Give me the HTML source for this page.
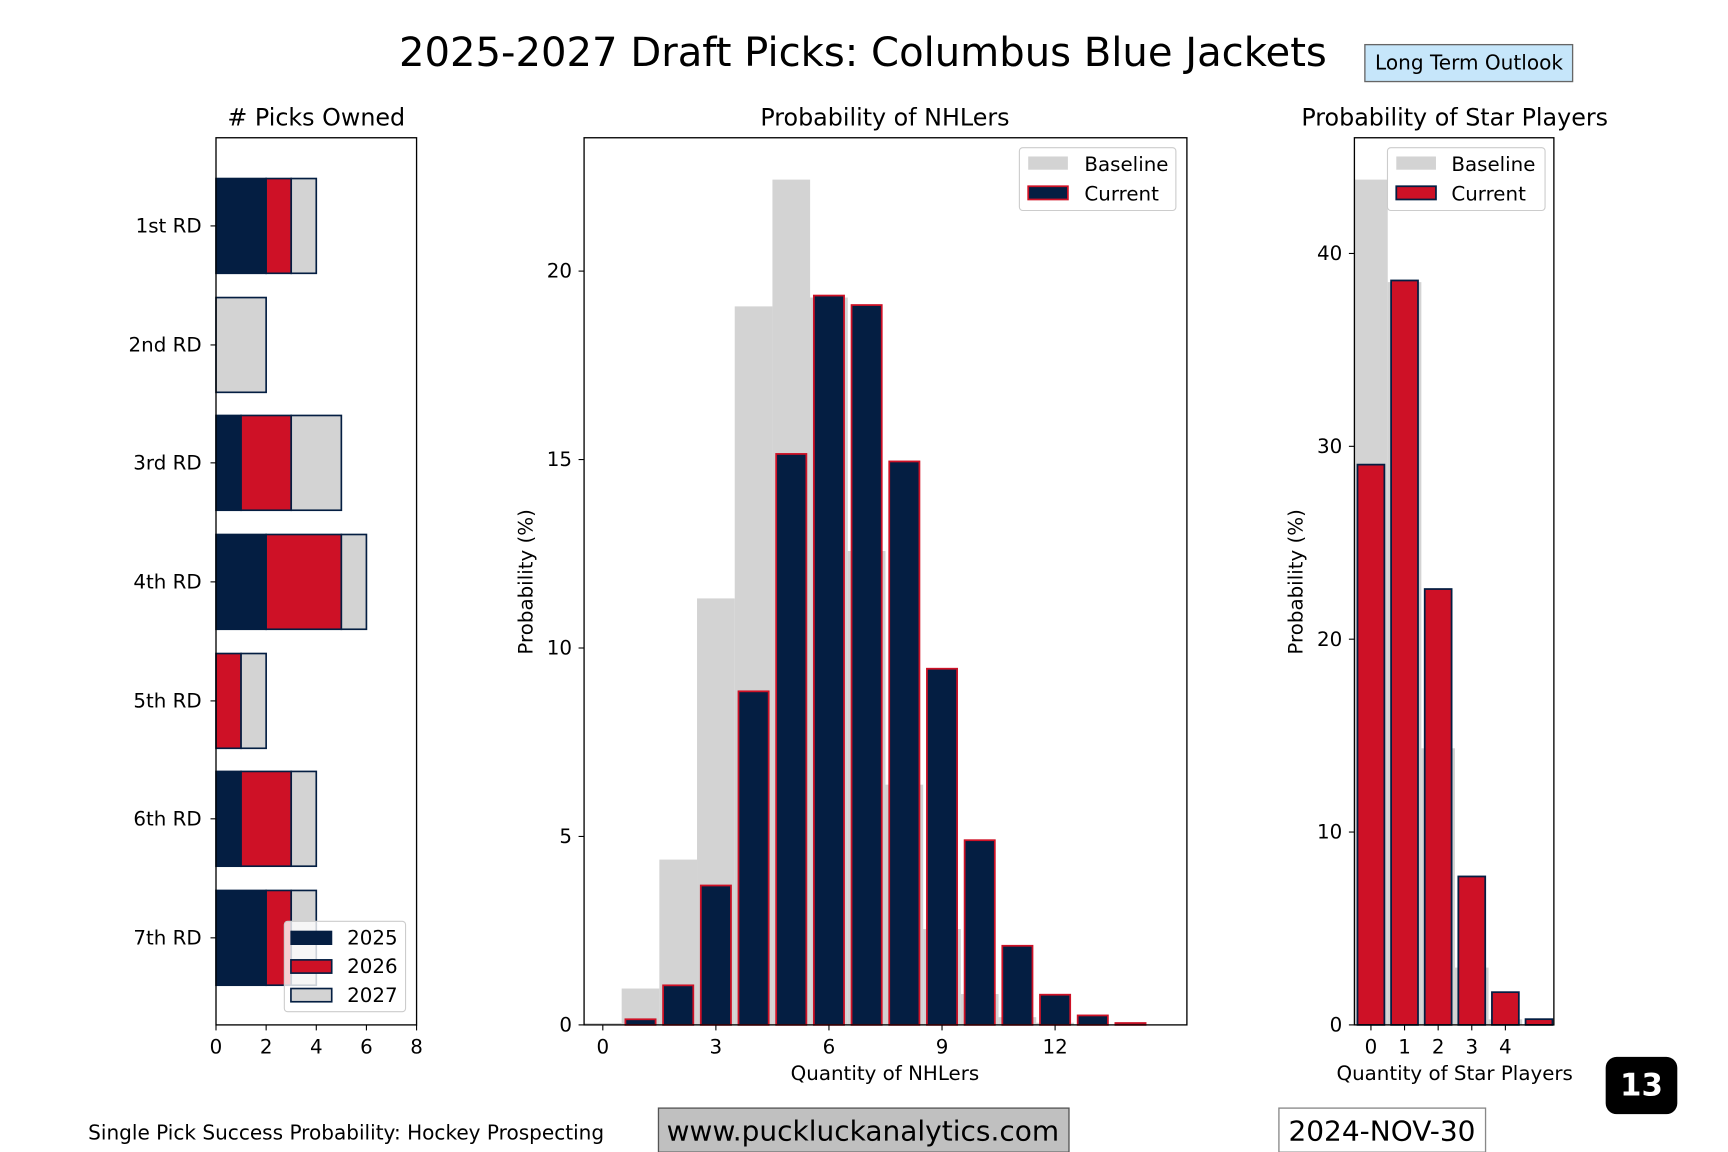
<!DOCTYPE html>
<html><head><meta charset="utf-8"><style>
html,body{margin:0;padding:0;background:#fff;}
svg{display:block;font-family:"DejaVu Sans","Liberation Sans",sans-serif;}
</style></head><body>
<svg width="1728" height="1152" viewBox="0 0 1568 1045.33" preserveAspectRatio="none" xmlns="http://www.w3.org/2000/svg">
<rect width="1568" height="1046" fill="#fff"/>
<text x="783" y="60" font-size="36.4" text-anchor="middle" fill="#000">2025-2027 Draft Picks: Columbus Blue Jackets</text>
<rect x="1238.5" y="40.5" width="188.5" height="33.5" fill="#c6e6fa" stroke="#666" stroke-width="1.2"/>
<text x="1333" y="63" font-size="18.2" text-anchor="middle">Long Term Outlook</text>

<!-- LEFT CHART -->
<text x="287" y="114" font-size="21.6" text-anchor="middle"># Picks Owned</text>
<g stroke="#041E42" stroke-width="1.5">
<rect x="196" y="162" width="45.5" height="86" fill="#041E42"/>
<rect x="241.5" y="162" width="22.75" height="86" fill="#CE1126"/>
<rect x="264.25" y="162" width="22.75" height="86" fill="#D3D3D3"/>
<rect x="196" y="270" width="45.5" height="86" fill="#D3D3D3"/>
<rect x="196" y="377" width="22.75" height="86" fill="#041E42"/>
<rect x="218.75" y="377" width="45.5" height="86" fill="#CE1126"/>
<rect x="264.25" y="377" width="45.5" height="86" fill="#D3D3D3"/>
<rect x="196" y="485" width="45.5" height="86" fill="#041E42"/>
<rect x="241.5" y="485" width="68.25" height="86" fill="#CE1126"/>
<rect x="309.75" y="485" width="22.75" height="86" fill="#D3D3D3"/>
<rect x="196" y="593" width="22.75" height="86" fill="#CE1126"/>
<rect x="218.75" y="593" width="22.75" height="86" fill="#D3D3D3"/>
<rect x="196" y="700" width="22.75" height="86" fill="#041E42"/>
<rect x="218.75" y="700" width="45.5" height="86" fill="#CE1126"/>
<rect x="264.25" y="700" width="22.75" height="86" fill="#D3D3D3"/>
<rect x="196" y="808" width="45.5" height="86" fill="#041E42"/>
<rect x="241.5" y="808" width="22.75" height="86" fill="#CE1126"/>
<rect x="264.25" y="808" width="22.75" height="86" fill="#D3D3D3"/>
</g>
<rect x="196" y="125" width="182" height="805" fill="none" stroke="#000" stroke-width="1.2"/>
<g stroke="#000" stroke-width="1">
<line x1="191" y1="205" x2="196" y2="205"/><line x1="191" y1="313" x2="196" y2="313"/>
<line x1="191" y1="420" x2="196" y2="420"/><line x1="191" y1="528" x2="196" y2="528"/>
<line x1="191" y1="636" x2="196" y2="636"/><line x1="191" y1="743" x2="196" y2="743"/>
<line x1="191" y1="851" x2="196" y2="851"/>
<line x1="196" y1="930" x2="196" y2="935"/><line x1="241.5" y1="930" x2="241.5" y2="935"/>
<line x1="287" y1="930" x2="287" y2="935"/><line x1="332.5" y1="930" x2="332.5" y2="935"/>
<line x1="378" y1="930" x2="378" y2="935"/>
</g>
<g font-size="18" text-anchor="end">
<text x="183" y="211">1st RD</text><text x="183" y="319">2nd RD</text>
<text x="183" y="426">3rd RD</text><text x="183" y="534">4th RD</text>
<text x="183" y="642">5th RD</text><text x="183" y="749">6th RD</text>
<text x="183" y="857">7th RD</text>
</g>
<g font-size="18" text-anchor="middle">
<text x="196" y="956">0</text><text x="241.5" y="956">2</text><text x="287" y="956">4</text>
<text x="332.5" y="956">6</text><text x="378" y="956">8</text>
</g>
<rect x="258" y="836" width="110" height="82" rx="3" fill="#fff" fill-opacity="0.8" stroke="#ccc"/>
<rect x="264" y="845" width="37" height="12" fill="#041E42" stroke="#041E42"/>
<rect x="264" y="871" width="37" height="12" fill="#CE1126" stroke="#041E42" stroke-width="1.5"/>
<rect x="264" y="897" width="37" height="12" fill="#D3D3D3" stroke="#041E42" stroke-width="1.5"/>
<g font-size="18"><text x="315" y="857">2025</text><text x="315" y="883">2026</text><text x="315" y="909">2027</text></g>

<!-- MIDDLE CHART -->
<text x="803" y="114" font-size="21.6" text-anchor="middle">Probability of NHLers</text>
<g fill="#D3D3D3">
<rect x="530" y="928.3" width="34.1" height="1.7"/>
<rect x="564.1" y="897" width="34.2" height="33"/>
<rect x="598.3" y="780" width="34.2" height="150"/>
<rect x="632.5" y="543" width="34.2" height="387"/>
<rect x="666.7" y="278" width="34.2" height="652"/>
<rect x="700.9" y="163" width="34.2" height="767"/>
<rect x="735.1" y="270" width="34.2" height="660"/>
<rect x="769.3" y="500" width="34.2" height="430"/>
<rect x="803.5" y="712" width="34.2" height="218"/>
<rect x="837.7" y="843" width="34.2" height="87"/>
<rect x="871.9" y="902" width="34.2" height="28"/>
<rect x="906.1" y="923" width="34.2" height="7"/>
<rect x="940.3" y="928" width="34.2" height="2"/>
</g>
<g fill="#041E42" stroke="#CE1126" stroke-width="1.6">
<rect x="567.5" y="924.9" width="27.4" height="5.1"/>
<rect x="601.7" y="894.1" width="27.4" height="35.9"/>
<rect x="635.9" y="803.5" width="27.4" height="126.5"/>
<rect x="670.1" y="627.3" width="27.4" height="302.7"/>
<rect x="704.3" y="411.9" width="27.4" height="518.1"/>
<rect x="738.5" y="268.2" width="27.4" height="661.8"/>
<rect x="772.7" y="276.8" width="27.4" height="653.2"/>
<rect x="806.9" y="418.7" width="27.4" height="511.3"/>
<rect x="841.1" y="606.8" width="27.4" height="323.2"/>
<rect x="875.3" y="762.4" width="27.4" height="167.6"/>
<rect x="909.5" y="858.2" width="27.4" height="71.8"/>
<rect x="943.7" y="902.6" width="27.4" height="27.4"/>
<rect x="977.9" y="921.4" width="27.4" height="8.6"/>
<rect x="1012.1" y="928.3" width="27.4" height="1.7"/>
</g>
<rect x="530" y="125" width="547" height="805" fill="none" stroke="#000" stroke-width="1.2"/>
<g stroke="#000" stroke-width="1">
<line x1="547" y1="930" x2="547" y2="935"/><line x1="649.6" y1="930" x2="649.6" y2="935"/>
<line x1="752.2" y1="930" x2="752.2" y2="935"/><line x1="854.8" y1="930" x2="854.8" y2="935"/>
<line x1="957.4" y1="930" x2="957.4" y2="935"/>
<line x1="525" y1="930" x2="530" y2="930"/><line x1="525" y1="759" x2="530" y2="759"/>
<line x1="525" y1="588" x2="530" y2="588"/><line x1="525" y1="417" x2="530" y2="417"/>
<line x1="525" y1="246" x2="530" y2="246"/>
</g>
<g font-size="18" text-anchor="middle">
<text x="547" y="956">0</text><text x="649.6" y="956">3</text><text x="752.2" y="956">6</text>
<text x="854.8" y="956">9</text><text x="957.4" y="956">12</text>
</g>
<g font-size="18" text-anchor="end">
<text x="519" y="936">0</text><text x="519" y="765">5</text><text x="519" y="594">10</text>
<text x="519" y="423">15</text><text x="519" y="252">20</text>
</g>
<text x="803" y="980" font-size="18" text-anchor="middle">Quantity of NHLers</text>
<text transform="translate(483,528) rotate(-90)" font-size="18" text-anchor="middle">Probability (%)</text>
<rect x="925" y="134" width="142" height="57" rx="3" fill="#fff" fill-opacity="0.8" stroke="#ccc"/>
<rect x="933" y="142" width="36" height="12" fill="#D3D3D3"/>
<rect x="933" y="169" width="36" height="12" fill="#041E42" stroke="#CE1126" stroke-width="1.6"/>
<g font-size="18"><text x="984" y="155">Baseline</text><text x="984" y="182">Current</text></g>

<!-- RIGHT CHART -->
<text x="1320" y="114" font-size="21.6" text-anchor="middle">Probability of Star Players</text>
<g fill="#D3D3D3">
<rect x="1229" y="163" width="30.25" height="767"/>
<rect x="1259.25" y="256" width="30.5" height="674"/>
<rect x="1289.75" y="679" width="30.5" height="251"/>
<rect x="1320.25" y="878" width="30.5" height="52"/>
<rect x="1350.75" y="925" width="30.5" height="5"/>
</g>
<g fill="#CE1126" stroke="#041E42" stroke-width="1.6">
<rect x="1231.8" y="421.6" width="24.4" height="508.4"/>
<rect x="1262.3" y="254.5" width="24.4" height="675.5"/>
<rect x="1292.8" y="534.5" width="24.4" height="395.5"/>
<rect x="1323.3" y="795.3" width="24.4" height="134.7"/>
<rect x="1353.8" y="900.3" width="24.4" height="29.7"/>
<rect x="1384.3" y="924.8" width="24.4" height="5.2"/>
</g>
<rect x="1229" y="125" width="181" height="805" fill="none" stroke="#000" stroke-width="1.2"/>
<g stroke="#000" stroke-width="1">
<line x1="1244" y1="930" x2="1244" y2="935"/><line x1="1274.5" y1="930" x2="1274.5" y2="935"/>
<line x1="1305" y1="930" x2="1305" y2="935"/><line x1="1335.5" y1="930" x2="1335.5" y2="935"/>
<line x1="1366" y1="930" x2="1366" y2="935"/>
<line x1="1224" y1="930" x2="1229" y2="930"/><line x1="1224" y1="755" x2="1229" y2="755"/>
<line x1="1224" y1="580" x2="1229" y2="580"/><line x1="1224" y1="405" x2="1229" y2="405"/>
<line x1="1224" y1="230" x2="1229" y2="230"/>
</g>
<g font-size="18" text-anchor="middle">
<text x="1244" y="956">0</text><text x="1274.5" y="956">1</text><text x="1305" y="956">2</text>
<text x="1335.5" y="956">3</text><text x="1366" y="956">4</text>
</g>
<g font-size="18" text-anchor="end">
<text x="1218" y="936">0</text><text x="1218" y="761">10</text><text x="1218" y="586">20</text>
<text x="1218" y="411">30</text><text x="1218" y="236">40</text>
</g>
<text x="1320" y="980" font-size="18" text-anchor="middle">Quantity of Star Players</text>
<text transform="translate(1182,528) rotate(-90)" font-size="18" text-anchor="middle">Probability (%)</text>
<rect x="1259" y="134" width="143" height="57" rx="3" fill="#fff" fill-opacity="0.8" stroke="#ccc"/>
<rect x="1267" y="142" width="36" height="12" fill="#D3D3D3"/>
<rect x="1267" y="169" width="36" height="12" fill="#CE1126" stroke="#041E42" stroke-width="1.6"/>
<g font-size="18"><text x="1317" y="155">Baseline</text><text x="1317" y="182">Current</text></g>

<!-- FOOTER -->
<text x="80" y="1034" font-size="18.2">Single Pick Success Probability: Hockey Prospecting</text>
<rect x="597.5" y="1005.5" width="372.5" height="40" fill="#c0c0c0" stroke="#555" stroke-width="1.2"/>
<text x="783" y="1035" font-size="25.4" text-anchor="middle">www.puckluckanalytics.com</text>
<rect x="1160.5" y="1005.5" width="187.5" height="40" fill="#fff" stroke="#888" stroke-width="1.2"/>
<text x="1254" y="1035" font-size="25.4" text-anchor="middle">2024-NOV-30</text>
<rect x="1457" y="959" width="65" height="52" rx="10" fill="#000"/>
<text x="1489.5" y="994" font-size="28" font-weight="bold" fill="#fff" text-anchor="middle">13</text>
</svg>
</body></html>
